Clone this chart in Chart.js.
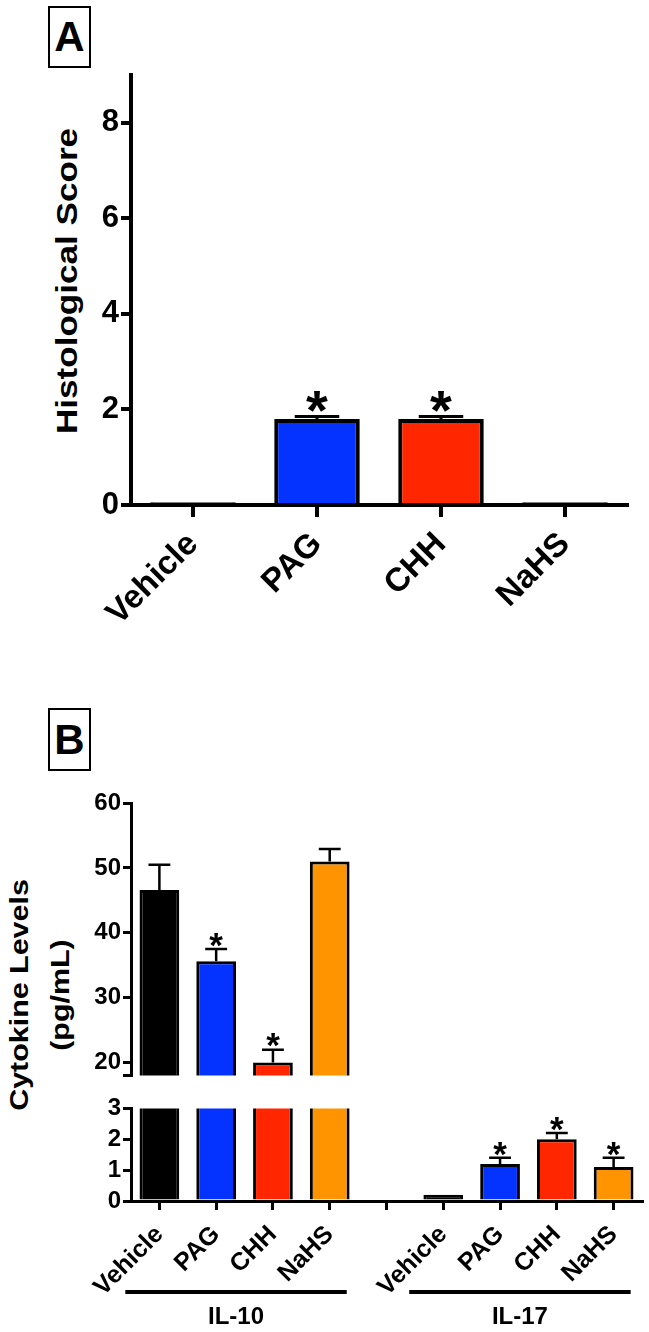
<!DOCTYPE html>
<html>
<head>
<meta charset="utf-8">
<script src="https://cdn.jsdelivr.net/npm/chart.js@4.4.1/dist/chart.umd.min.js"></script>
<style>
  html, body { margin: 0; padding: 0; background: #ffffff; }
  body { width: 649px; height: 1332px; position: relative; overflow: hidden;
         font-family: "Liberation Sans", Arial, sans-serif; font-weight: bold; color: #000; }
  canvas { position: absolute; left: 0; }
  .panel-box { position: absolute; box-sizing: border-box; border: 2px solid #000;
               display: flex; align-items: center; justify-content: center;
               font-size: 42px; line-height: 1; }
  .ytitle { position: absolute; white-space: nowrap; text-align: center; }
</style>
</head>
<body>
<div class="panel-box" style="left:48px;top:6px;width:43px;height:62px;">A</div>
<div class="panel-box" style="left:48px;top:708px;width:43px;height:63px;">B</div>

<div class="ytitle" id="titleA" style="left:67px;top:281px;font-size:30px;line-height:30px;
     transform:translate(-50%,-50%) rotate(-90deg) scaleX(1.17);">Histological Score</div>
<div class="ytitle" id="titleB" style="left:40px;top:995px;font-size:26px;line-height:41px;
     transform:translate(-50%,-50%) rotate(-90deg) scaleX(1.17);">Cytokine Levels<br>(pg/mL)</div>

<canvas id="chartA" width="649" height="650" style="top:0px"></canvas>
<canvas id="chartBUpper" width="649" height="312" style="top:780px"></canvas>
<canvas id="chartBLower" width="649" height="240" style="top:1092px"></canvas>

<script>
// ---------------- data ----------------
const categoriesA = ['Vehicle', 'PAG', 'CHH', 'NaHS'];
const scoreA      = [0.06, 1.8, 1.8, 0.06];
const scoreErrA   = [0, 0.05, 0.05, 0];
const scoreSigA   = [false, true, true, false];
const yTicksA     = [0, 2, 4, 6, 8];

const categoriesB = ['Vehicle', 'PAG', 'CHH', 'NaHS'];
const groupsB     = ['IL-10', 'IL-17'];
const il10        = [46.6, 35.6, 20.0, 51.0];
const il10Err     = [3.9, 1.9, 2.0, 1.9];
const il10Sig     = [false, true, true, false];
const il17        = [0.2, 1.2, 2.0, 1.1];
const il17Err     = [0, 0.2, 0.2, 0.3];
const il17Sig     = [false, true, true, true];
const yTicksBUpper = [20, 30, 40, 50, 60];
const yTicksBLower = [0, 1, 2, 3];
const breakLowB   = 3;    // lower segment top
const breakHighB  = 18;   // upper segment bottom

// ---------------- styles ----------------
const FONT = '"Liberation Sans", Arial, sans-serif';
const colorsA = ['#000000', '#0433ff', '#ff2600', '#000000'];
const colorsB = ['#000000', '#0433ff', '#ff2600', '#ff9300'];

// build combined B arrays (gap category between groups)
const labelsB = [...categoriesB, '', ...categoriesB];
const valuesB = [...il10, null, ...il17];
const errB    = [...il10Err, 0, ...il17Err];
const sigB    = [...il10Sig, false, ...il17Sig];
const colB    = [...colorsB, '#ffffff', ...colorsB];

// ---------------- plugins ----------------
const errPlugin = {
  id: 'errbars',
  afterDatasetsDraw(chart, args, opts) {
    const ctx = chart.ctx;
    const ys = chart.scales.y;
    chart.data.datasets.forEach((ds, di) => {
      const meta = chart.getDatasetMeta(di);
      meta.data.forEach((bar, i) => {
        const v = ds.data[i];
        if (v === null || v === undefined) return;
        const e = (ds.errors || [])[i] || 0;
        const top = v + e;
        if (v < ys.min || top > ys.max) return;
        ctx.save();
        ctx.strokeStyle = '#000';
        ctx.lineWidth = opts.lineWidth;
        const yTop = ys.getPixelForValue(top);
        if (e > 0) {
          const half = bar.width * opts.capRatio / 2;
          ctx.beginPath();
          ctx.moveTo(bar.x, bar.y);
          ctx.lineTo(bar.x, yTop);
          ctx.moveTo(bar.x - half, yTop);
          ctx.lineTo(bar.x + half, yTop);
          ctx.stroke();
        }
        if (ds.sig && ds.sig[i]) {
          const yc = yTop - opts.starGap;
          ctx.fillStyle = '#000';
          ctx.font = 'bold ' + opts.starSize + 'px ' + FONT;
          ctx.textAlign = 'center';
          ctx.textBaseline = 'alphabetic';
          ctx.fillText('*', bar.x, yc + 0.565 * opts.starSize);
        }
        ctx.restore();
      });
    });
  }
};

const groupPlugin = {
  id: 'groups',
  afterDraw(chart, args, opts) {
    const xs = chart.scales.x;
    const ctx = chart.ctx;
    const step = xs.getPixelForValue(1) - xs.getPixelForValue(0);
    const n = categoriesB.length;
    const yLine = chart.chartArea.bottom + opts.lineOffset;
    groupsB.forEach((name, g) => {
      const first = g * (n + 1);
      const last = first + n - 1;
      const x1 = xs.getPixelForValue(first) - step * opts.leftExt;
      const x2 = xs.getPixelForValue(last) + step * opts.rightExt;
      ctx.save();
      ctx.strokeStyle = '#000';
      ctx.lineWidth = opts.lineWidth;
      ctx.beginPath();
      ctx.moveTo(x1, yLine);
      ctx.lineTo(x2, yLine);
      ctx.stroke();
      ctx.fillStyle = '#000';
      ctx.font = 'bold ' + opts.fontSize + 'px ' + FONT;
      ctx.textAlign = 'center';
      ctx.textBaseline = 'middle';
      ctx.fillText(name, (x1 + x2) / 2, yLine + opts.textOffset);
      ctx.restore();
    });
  }
};

Chart.defaults.font.family = FONT;
Chart.defaults.color = '#000';

// ---------------- Panel A ----------------
new Chart(document.getElementById('chartA'), {
  type: 'bar',
  data: {
    labels: categoriesA,
    datasets: [{
      data: scoreA,
      errors: scoreErrA,
      sig: scoreSigA,
      backgroundColor: colorsA,
      borderColor: '#000',
      borderWidth: 4,
      borderSkipped: 'start',
      barPercentage: 0.69,
      categoryPercentage: 1.0
    }]
  },
  options: {
    responsive: false, animation: false, devicePixelRatio: 1,
    layout: { padding: { top: 75, right: 22, left: 0, bottom: 0 } },
    plugins: {
      legend: { display: false }, tooltip: { enabled: false },
      errbars: { lineWidth: 3, capRatio: 0.52, starGap: 19, starSize: 56 }
    },
    scales: {
      x: {
        grid: { display: true, drawOnChartArea: false, drawTicks: true, tickLength: 12,
                tickWidth: 4, lineWidth: 4, tickColor: '#000', color: '#000', offset: false },
        border: { display: true, width: 4, color: '#000' },
        ticks: { color: '#000', font: { size: 33, weight: 'bold' }, maxRotation: 45,
                 minRotation: 45, padding: 8, autoSkip: false },
        afterFit(s) { s.height = 650 - 505; }
      },
      y: {
        min: 0, max: 9,
        afterBuildTicks(s) { s.ticks = yTicksA.map(v => ({ value: v })); },
        grid: { display: true, drawOnChartArea: false, drawTicks: true, tickLength: 10,
                tickWidth: 4, lineWidth: 4, tickColor: '#000', color: '#000' },
        border: { display: true, width: 4, color: '#000' },
        ticks: { color: '#000', font: { size: 31, weight: 'bold' }, padding: 2, autoSkip: false },
        afterFit(s) { s.width = 131; }
      }
    }
  },
  plugins: [errPlugin]
});

// ---------------- Panel B (broken axis: two stacked charts) ----------------
function bDataset() {
  return {
    data: valuesB,
    errors: errB,
    sig: sigB,
    backgroundColor: colB,
    borderColor: '#000',
    borderWidth: 3,
    borderSkipped: 'start',
    barPercentage: 0.70,
    categoryPercentage: 1.0,
    clip: 0
  };
}
const bErrOpts = { lineWidth: 2.5, capRatio: 0.55, starGap: 12, starSize: 35 };
const yGridB = { display: true, drawOnChartArea: false, drawTicks: true, tickLength: 8,
                 tickWidth: 3, lineWidth: 3, tickColor: '#000', color: '#000' };

new Chart(document.getElementById('chartBUpper'), {
  type: 'bar',
  data: { labels: labelsB, datasets: [bDataset()] },
  options: {
    responsive: false, animation: false, devicePixelRatio: 1,
    layout: { padding: { top: 23, right: 7, left: 0, bottom: 2 } },
    plugins: { legend: { display: false }, tooltip: { enabled: false }, errbars: bErrOpts },
    scales: {
      x: { display: false, grid: { offset: false } },
      y: {
        min: breakHighB, max: 60,
        afterBuildTicks(s) { s.ticks = [breakHighB, ...yTicksBUpper].map(v => ({ value: v })); },
        grid: yGridB,
        border: { display: true, width: 3, color: '#000' },
        ticks: { color: '#000', font: { size: 24, weight: 'bold' }, padding: 2, autoSkip: false,
                 callback: v => (yTicksBUpper.includes(v) ? String(v) : '') },
        afterFit(s) { s.width = 131; }
      }
    }
  },
  plugins: [errPlugin]
});

new Chart(document.getElementById('chartBLower'), {
  type: 'bar',
  data: { labels: labelsB, datasets: [bDataset()] },
  options: {
    responsive: false, animation: false, devicePixelRatio: 1,
    layout: { padding: { top: 16, right: 7, left: 0, bottom: 0 } },
    plugins: {
      legend: { display: false }, tooltip: { enabled: false }, errbars: bErrOpts,
      groups: { lineOffset: 91, textOffset: 25, leftExt: 0.6, rightExt: 0.3, lineWidth: 4, fontSize: 24 }
    },
    scales: {
      x: {
        grid: { display: true, drawOnChartArea: false, drawTicks: true, tickLength: 9,
                tickWidth: 3, lineWidth: 3, tickColor: '#000', color: '#000', offset: false },
        border: { display: true, width: 3, color: '#000' },
        ticks: { color: '#000', font: { size: 25, weight: 'bold' }, maxRotation: 45,
                 minRotation: 45, padding: 10, autoSkip: false },
        afterFit(s) { s.height = 1332 - 1201; }
      },
      y: {
        min: 0, max: breakLowB,
        afterBuildTicks(s) { s.ticks = yTicksBLower.map(v => ({ value: v })); },
        grid: yGridB,
        border: { display: true, width: 3, color: '#000' },
        ticks: { color: '#000', font: { size: 24, weight: 'bold' }, padding: 2, autoSkip: false },
        afterFit(s) { s.width = 131; }
      }
    }
  },
  plugins: [errPlugin, groupPlugin]
});
</script>
</body>
</html>
